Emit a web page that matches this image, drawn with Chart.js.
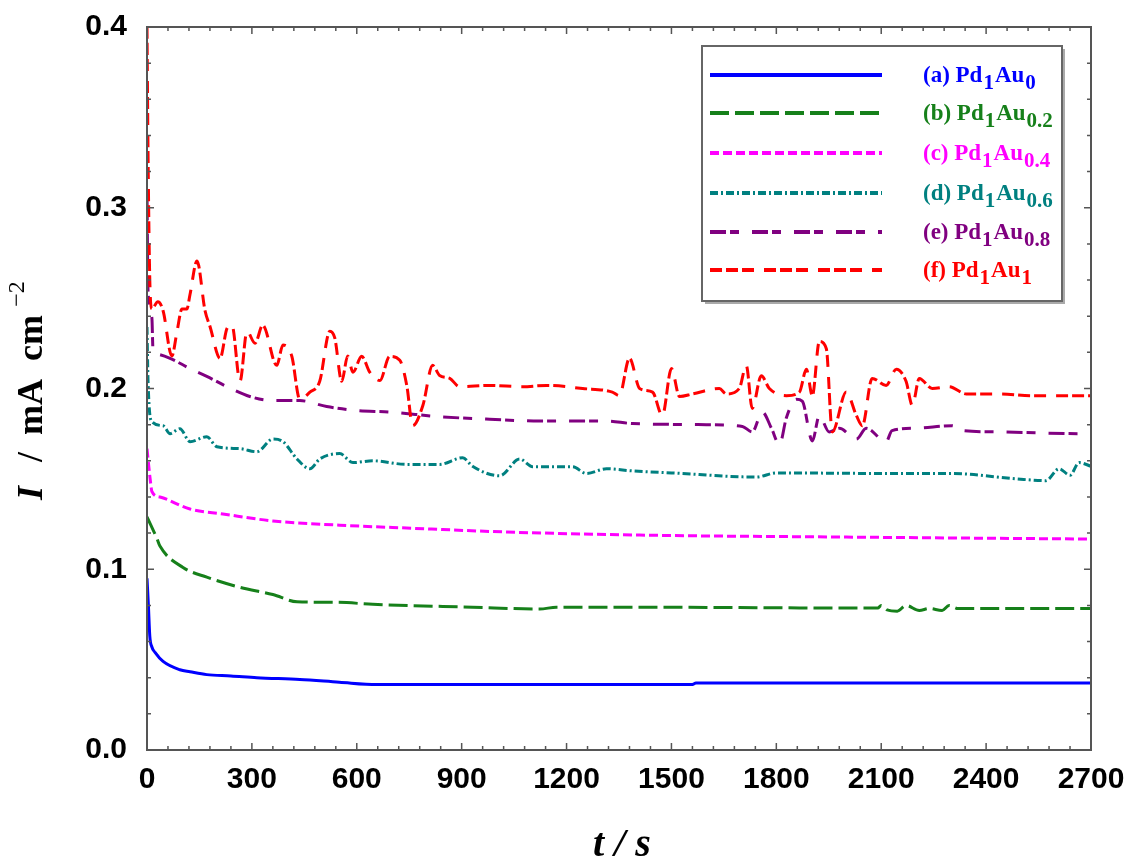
<!DOCTYPE html>
<html>
<head>
<meta charset="utf-8">
<script src="https://cdn.jsdelivr.net/npm/chart.js@4/dist/chart.umd.min.js"></script>
<style>
  body { margin: 0; background: #fff; }
  #wrap { width: 1124px; height: 865px; }
</style>
</head>
<body>
<div id="wrap"><canvas id="chart"></canvas></div>
<script>
// tick labels
const xTicks = [0, 300, 600, 900, 1200, 1500, 1800, 2100, 2400, 2700];
const yTicks = [0.0, 0.1, 0.2, 0.3, 0.4];

// series names: [prefix, sub1, middle, sub2]
const seriesNames = [
  ['(a) Pd', '1', 'Au', '0'],
  ['(b) Pd', '1', 'Au', '0.2'],
  ['(c) Pd', '1', 'Au', '0.4'],
  ['(d) Pd', '1', 'Au', '0.6'],
  ['(e) Pd', '1', 'Au', '0.8'],
  ['(f) Pd', '1', 'Au', '1']
];

// (a) Pd1Au0
const timeA = [0, 4, 8, 14, 23, 46, 94, 123, 171, 240, 314, 437, 550, 657, 1000, 1560, 1570, 2700];
const currA = [0.095, 0.08, 0.063, 0.057, 0.054, 0.049, 0.0444, 0.0433, 0.0417, 0.041, 0.040, 0.039, 0.0375, 0.0362, 0.0362, 0.0362, 0.037, 0.037];

// (b) Pd1Au0.2
const timeB = [0, 29, 37, 103, 171, 266, 360, 429, 543, 646, 931, 1123, 1171, 1409, 2090, 2100, 2117, 2146, 2171, 2209, 2237, 2274, 2294, 2320, 2700];
const currB = [0.129, 0.1167, 0.1128, 0.101, 0.0956, 0.090, 0.086, 0.082, 0.0817, 0.0806, 0.079, 0.078, 0.079, 0.079, 0.0785, 0.080, 0.0775, 0.0768, 0.080, 0.0772, 0.0783, 0.0772, 0.0800, 0.0783, 0.0783];

// (c) Pd1Au0.4
const timeC = [0, 9, 14, 37, 123, 217, 360, 551, 743, 1029, 1409, 2000, 2700];
const currC = [0.1667, 0.150, 0.143, 0.140, 0.1333, 0.1306, 0.1267, 0.1244, 0.1228, 0.1206, 0.1189, 0.1178, 0.1167];

// (d) Pd1Au0.6
const timeD = [0, 3, 14, 46, 66, 94, 123, 171, 200, 266, 314, 360, 389, 429, 466, 494, 551, 589, 646, 743, 837, 903, 931, 1009, 1066, 1103, 1217, 1257, 1314, 1389, 1500, 1743, 1800, 2100, 2300, 2486, 2571, 2609, 2640, 2666, 2700];
const currD = [0.234, 0.204, 0.1817, 0.1794, 0.175, 0.1778, 0.1706, 0.1733, 0.1678, 0.1667, 0.165, 0.172, 0.1706, 0.161, 0.1556, 0.161, 0.164, 0.159, 0.160, 0.158, 0.158, 0.1617, 0.157, 0.1517, 0.161, 0.1567, 0.1567, 0.153, 0.1556, 0.1544, 0.1533, 0.151, 0.1533, 0.153, 0.153, 0.150, 0.149, 0.1556, 0.152, 0.159, 0.157];

// (e) Pd1Au0.8
const timeE = [0, 3, 14, 17, 30, 66, 123, 171, 229, 294, 360, 437, 514, 600, 694, 837, 980, 1123, 1314, 1389, 1600, 1703, 1731, 1760, 1786, 1809, 1829, 1857, 1874, 1903, 1923, 1951, 1980, 2029, 2057, 2114, 2131, 2200, 2303, 2331, 2437, 2666, 2700];
const currE = [0.309, 0.254, 0.239, 0.222, 0.219, 0.2167, 0.211, 0.2067, 0.201, 0.1956, 0.1933, 0.1933, 0.190, 0.1878, 0.187, 0.1844, 0.183, 0.182, 0.182, 0.1806, 0.180, 0.179, 0.176, 0.187, 0.178, 0.169, 0.184, 0.194, 0.193, 0.171, 0.185, 0.176, 0.178, 0.172, 0.178, 0.1706, 0.1767, 0.178, 0.1794, 0.1767, 0.176, 0.175, 0.175];

// (f) Pd1Au1
const timeF = [0, 3, 8, 14, 31, 46, 71, 86, 100, 114, 123, 143, 166, 180, 209, 229, 243, 266, 286, 309, 331, 371, 389, 414, 437, 466, 494, 523, 537, 557, 574, 589, 614, 637, 666, 694, 723, 743, 760, 789, 817, 837, 866, 894, 980, 1074, 1143, 1246, 1331, 1351, 1380, 1409, 1446, 1474, 1500, 1523, 1560, 1637, 1657, 1694, 1714, 1731, 1757, 1780, 1829, 1866, 1886, 1903, 1923, 1943, 1960, 2000, 2029, 2046, 2074, 2114, 2143, 2171, 2189, 2209, 2246, 2294, 2343, 2437, 2531, 2700];
const currF = [0.40, 0.33, 0.26, 0.244, 0.248, 0.243, 0.218, 0.2317, 0.244, 0.244, 0.252, 0.2706, 0.243, 0.2344, 0.2167, 0.2333, 0.235, 0.204, 0.2317, 0.225, 0.235, 0.2128, 0.224, 0.218, 0.194, 0.198, 0.204, 0.2317, 0.228, 0.204, 0.218, 0.209, 0.2178, 0.209, 0.2044, 0.2178, 0.2156, 0.2017, 0.1794, 0.1906, 0.2128, 0.2072, 0.2056, 0.201, 0.2017, 0.201, 0.2017, 0.200, 0.198, 0.196, 0.2167, 0.200, 0.198, 0.185, 0.211, 0.1956, 0.197, 0.200, 0.197, 0.200, 0.2128, 0.189, 0.207, 0.200, 0.196, 0.198, 0.2106, 0.196, 0.226, 0.222, 0.176, 0.198, 0.185, 0.1794, 0.2056, 0.2017, 0.2106, 0.204, 0.1906, 0.2056, 0.200, 0.201, 0.197, 0.197, 0.196, 0.196];

const colors = ['#0000ff', '#16801a', '#ff00ff', '#008080', '#800080', '#ff0000'];
const dashes = [[], [19, 6], [9, 4], [8, 3, 2, 3], [16, 4, 9, 13], [12, 4, 12, 4, 12, 10]];

function pts(t, v) { return t.map((x, i) => ({ x: x, y: v[i] })); }
const allTimes = [timeA, timeB, timeC, timeD, timeE, timeF];
const allCurr = [currA, currB, currC, currD, currE, currF];

const datasets = allTimes.map((t, i) => ({
  label: seriesNames[i].join(''),
  data: pts(t, allCurr[i]),
  borderColor: colors[i],
  borderWidth: 3,
  borderDash: dashes[i],
  pointRadius: 0,
  fill: false,
  cubicInterpolationMode: 'monotone'
})).reverse();

const tickFont = { family: "'Liberation Sans', Arial, sans-serif", weight: 'bold', size: 30 };

// frame, inner ticks, axis titles, legend
const framePlugin = {
  id: 'frame',
  afterDraw(chart) {
    const ctx = chart.ctx;
    const a = chart.chartArea;
    const xs = chart.scales.x, ys = chart.scales.y;
    ctx.save();
    ctx.strokeStyle = '#555';
    ctx.lineWidth = 2;
    ctx.strokeRect(a.left, a.top, a.right - a.left, a.bottom - a.top);
    ctx.lineWidth = 1.5;
    ctx.beginPath();
    for (let t = 0; t <= 2700; t += 60) {
      const px = xs.getPixelForValue(t);
      const len = t % 300 === 0 ? 7 : 4;
      ctx.moveTo(px, a.bottom); ctx.lineTo(px, a.bottom - len);
      ctx.moveTo(px, a.top); ctx.lineTo(px, a.top + len);
    }
    for (let k = 0; k <= 20; k++) {
      const py = ys.getPixelForValue(k * 0.02);
      const len = k % 5 === 0 ? 7 : 4;
      ctx.moveTo(a.left, py); ctx.lineTo(a.left + len, py);
      ctx.moveTo(a.right, py); ctx.lineTo(a.right - len, py);
    }
    ctx.stroke();

    // x title
    ctx.fillStyle = '#000';
    ctx.textBaseline = 'middle';
    ctx.textAlign = 'center';
    ctx.font = "italic bold 40px 'Liberation Serif', serif";
    ctx.fillText('t / s', 622, 846);

    // y title
    ctx.save();
    ctx.translate(33, 0);
    ctx.rotate(-Math.PI / 2);
    ctx.textAlign = 'center';
    ctx.font = "italic bold 36px 'Liberation Serif', serif";
    ctx.fillText('I', -493, 0);
    ctx.font = "bold 36px 'Liberation Serif', serif";
    ctx.fillText('/', -457, 0);
    ctx.fillText('mA', -407, 0);
    ctx.fillText('cm', -338, 0);
    ctx.font = "24px 'Liberation Serif', serif";
    ctx.fillText('\u22122', -294, -15);
    ctx.restore();

    // legend box
    const L = 702, T = 46, R = 1062, B = 301;
    ctx.strokeStyle = '#aaa';
    ctx.lineWidth = 2;
    ctx.beginPath();
    ctx.moveTo(L + 3, B + 2); ctx.lineTo(R + 2, B + 2); ctx.lineTo(R + 2, T + 3);
    ctx.stroke();
    ctx.strokeStyle = '#666';
    ctx.strokeRect(L, T, R - L, B - T);
    const rows = [75, 113, 153, 193, 232, 270];
    seriesNames.forEach((nm, i) => {
      const y = rows[i];
      ctx.strokeStyle = colors[i];
      ctx.lineWidth = 4;
      ctx.setLineDash(dashes[i]);
      ctx.beginPath();
      ctx.moveTo(710, y); ctx.lineTo(882, y);
      ctx.stroke();
      ctx.setLineDash([]);
      ctx.fillStyle = colors[i];
      ctx.textAlign = 'left';
      ctx.textBaseline = 'alphabetic';
      let x = 923;
      const base = y + 7;
      ctx.font = "bold 23px 'Liberation Serif', serif";
      ctx.fillText(nm[0], x, base); x += ctx.measureText(nm[0]).width + 1;
      ctx.font = "bold 21px 'Liberation Serif', serif";
      ctx.fillText(nm[1], x, base + 7); x += ctx.measureText(nm[1]).width + 1;
      ctx.font = "bold 23px 'Liberation Serif', serif";
      ctx.fillText(nm[2], x, base); x += ctx.measureText(nm[2]).width + 1;
      ctx.font = "bold 21px 'Liberation Serif', serif";
      ctx.fillText(nm[3], x, base + 7);
    });
    ctx.restore();
  }
};

new Chart(document.getElementById('chart'), {
  type: 'line',
  data: { datasets: datasets },
  options: {
    responsive: true,
    maintainAspectRatio: false,
    animation: false,
    layout: { padding: { top: 27, right: 33, left: 0, bottom: 0 } },
    plugins: { legend: { display: false }, tooltip: { enabled: false } },
    scales: {
      x: {
        type: 'linear',
        min: 0,
        max: 2700,
        afterFit: s => { s.height = 115; s.paddingLeft = 0; s.paddingRight = 0; },
        afterBuildTicks: s => { s.ticks = xTicks.map(v => ({ value: v })); },
        grid: { display: false, drawTicks: false },
        border: { display: false },
        ticks: { font: tickFont, color: '#000', padding: 12, maxRotation: 0, autoSkip: false, callback: v => String(v) }
      },
      y: {
        min: 0,
        max: 0.4,
        afterFit: s => { s.width = 147; s.paddingTop = 0; s.paddingBottom = 0; },
        afterBuildTicks: s => { s.ticks = yTicks.map(v => ({ value: v })); },
        grid: { display: false, drawTicks: false },
        border: { display: false },
        ticks: { font: tickFont, color: '#000', padding: 20, callback: v => v.toFixed(1) }
      }
    }
  },
  plugins: [framePlugin]
});
</script>
</body>
</html>
